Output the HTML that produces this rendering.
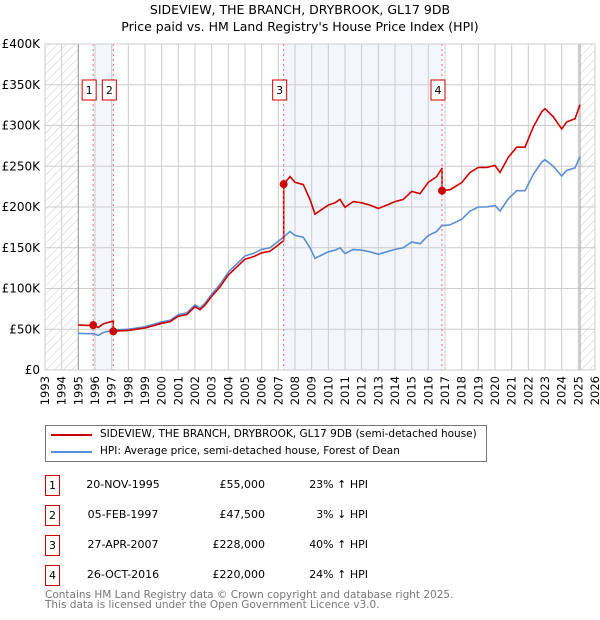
<!DOCTYPE html>
<html><head><meta charset="utf-8">
<style>
body{margin:0;background:#fff;font-family:"DejaVu Sans","Liberation Sans",sans-serif;}
#wrap{position:relative;width:600px;height:620px;overflow:hidden;}
.t{position:absolute;font-size:12px;color:#000;white-space:nowrap;}
.box{position:absolute;width:13px;height:19px;border:1px solid #c00;font-size:11px;text-align:center;line-height:19px;}
</style></head><body>
<div id="wrap">
<div class="t" style="left:0;width:600px;text-align:center;top:2px;font-size:12.5px">SIDEVIEW, THE BRANCH, DRYBROOK, GL17 9DB</div>
<div class="t" style="left:0;width:600px;text-align:center;top:19px;font-size:12.5px">Price paid vs. HM Land Registry's House Price Index (HPI)</div>
<svg id="chart" width="600" height="415" style="position:absolute;left:0;top:0"></svg>
<div style="position:absolute;left:45px;top:425px;width:440px;height:35px;border:1px solid #777;">
 <div><div style="position:absolute;left:5px;top:8px;width:41px;height:2px;background:#c00"></div><div class="t" style="left:54px;top:2px;font-size:10.5px">SIDEVIEW, THE BRANCH, DRYBROOK, GL17 9DB (semi-detached house)</div></div>
 <div><div style="position:absolute;left:5px;top:25px;width:41px;height:2px;background:#5b8ed3"></div><div class="t" style="left:54px;top:19px;font-size:10.5px">HPI: Average price, semi-detached house, Forest of Dean</div></div>
</div>
<div id="table"></div>
<div class="t" style="left:45px;top:589px;font-size:10.5px;color:#777">Contains HM Land Registry data © Crown copyright and database right 2025.</div>
<div class="t" style="left:45px;top:599px;font-size:10.5px;color:#777">This data is licensed under the Open Government Licence v3.0.</div>
</div>
<script>
const hpiYears=[1995.0,1995.5,1995.9,1996.2,1996.5,1997.1,1997.5,1998,1998.5,1999,1999.5,2000,2000.5,2001,2001.5,2002,2002.3,2002.6,2003,2003.5,2004,2004.5,2004.8,2005,2005.5,2006,2006.5,2007,2007.3,2007.7,2008,2008.5,2008.9,2009.2,2009.5,2010,2010.4,2010.7,2011,2011.5,2012,2012.5,2013,2013.5,2014,2014.5,2015,2015.5,2016,2016.5,2016.8,2017.3,2018,2018.5,2019,2019.5,2020,2020.3,2020.8,2021.3,2021.8,2022.3,2022.8,2023,2023.5,2024,2024.3,2024.8,2025.1];
const hpiValues=[45000,44500,44700,42500,46000,48900,49500,50000,51500,53000,56000,59000,61000,68000,70000,80000,76000,82000,93000,105000,120000,130000,136000,140000,143000,148000,150000,158000,163000,170000,165000,163000,150000,137000,140000,145000,147000,150000,143000,148000,147000,145000,142000,145000,148000,150000,157000,155000,165000,170000,177000,178000,185000,195000,200000,200000,202000,195000,210000,220000,220000,240000,255000,258000,250000,238000,245000,248000,262000];
const saleLabels=["1","2","3","4"];
const saleDates=["20-NOV-1995","05-FEB-1997","27-APR-2007","26-OCT-2016"];
const saleYears=[1995.89,1997.1,2007.32,2016.82];
const salePrices=[55000,47500,228000,220000];
const saleDiffs=["23% \u2191 HPI","3% \u2193 HPI","40% \u2191 HPI","24% \u2191 HPI"];
const yTicks=[0,50000,100000,150000,200000,250000,300000,350000,400000];
const yTickLabels=["£0","£50K","£100K","£150K","£200K","£250K","£300K","£350K","£400K"];
const xTicks=[1993,1994,1995,1996,1997,1998,1999,2000,2001,2002,2003,2004,2005,2006,2007,2008,2009,2010,2011,2012,2013,2014,2015,2016,2017,2018,2019,2020,2021,2022,2023,2024,2025,2026];

const L=45,R=595,T=44,B=370,X0=1993,X1=2026,YMAX=400000;
const xs=v=>L+(v-X0)/(X1-X0)*(R-L);
const ys=v=>B-v/YMAX*(B-T);
const NS="http://www.w3.org/2000/svg";
const svg=document.getElementById('chart');
function mk(tag,at,parent){const e=document.createElementNS(NS,tag);for(const k in at)e.setAttribute(k,at[k]);(parent||svg).appendChild(e);return e;}
function hpiAt(y){for(let i=0;i<hpiYears.length-1;i++){if(y<=hpiYears[i+1]){const f=(y-hpiYears[i])/(hpiYears[i+1]-hpiYears[i]);return hpiValues[i]+f*(hpiValues[i+1]-hpiValues[i]);}}return hpiValues[hpiValues.length-1];}

const defs=mk('defs',{});
const pat=mk('pattern',{id:'hatch',width:6,height:6,patternUnits:'userSpaceOnUse',patternTransform:'rotate(45)'},defs);
mk('line',{x1:0,y1:0,x2:0,y2:6,stroke:'#ccc','stroke-width':1},pat);
const dataStart=hpiYears[0],dataEnd=hpiYears[hpiYears.length-1];
let e;
e=mk('rect',{x:L,y:T,width:xs(dataStart)-L,height:B-T,fill:'url(#hatch)'});

e=mk('rect',{x:xs(dataEnd),y:T,width:R-xs(dataEnd),height:B-T,fill:'url(#hatch)'});

for(let i=0;i<saleYears.length;i+=2){
 e=mk('rect',{x:xs(saleYears[i]),y:T,width:xs(saleYears[i+1])-xs(saleYears[i]),height:B-T,fill:'#f3f6fd'});
 
}
xTicks.forEach(v=>{e=mk('line',{x1:xs(v),x2:xs(v),y1:T,y2:B,stroke:'#ccc','stroke-width':1});
 
 e=mk('text',{x:0,y:0,transform:`translate(${xs(v)+4},${B+6}) rotate(-90)`,'text-anchor':'end','font-size':'11.5','font-family':'DejaVu Sans, Liberation Sans, sans-serif'});e.textContent=v;
 });
yTicks.forEach((v,i)=>{e=mk('line',{x1:L,x2:R,y1:ys(v),y2:ys(v),stroke:'#ccc','stroke-width':1});
 
 e=mk('text',{x:L-5,y:ys(v)+4,'text-anchor':'end','font-size':'12','font-family':'DejaVu Sans, Liberation Sans, sans-serif'});e.textContent=yTickLabels[i];
 });
e=mk('line',{x1:xs(dataStart),x2:xs(dataStart),y1:T,y2:B,stroke:'#999'});
e=mk('line',{x1:xs(dataEnd),x2:xs(dataEnd),y1:T,y2:B,stroke:'#999'});

let d=hpiYears.map((y,i)=>(i?'L':'M')+xs(y).toFixed(1)+','+ys(hpiValues[i]).toFixed(1)).join('');
e=mk('path',{d:d,fill:'none',stroke:'#5b8ed3','stroke-width':1.6});

let pts=[];
for(let i=0;i<hpiYears.length;i++){
 const y=hpiYears[i];let k=0;for(let j=0;j<saleYears.length;j++)if(y>=saleYears[j])k=j;
 if(i>0){for(let j=0;j<saleYears.length;j++){if(saleYears[j]>hpiYears[i-1]&&saleYears[j]<=y){const kp=Math.max(0,j-1);pts.push([saleYears[j],hpiAt(saleYears[j])*salePrices[kp]/hpiAt(saleYears[kp])]);pts.push([saleYears[j],salePrices[j]]);}}}
 pts.push([y,hpiValues[i]*salePrices[k]/hpiAt(saleYears[k])]);
}
d=pts.map((p,i)=>(i?'L':'M')+xs(p[0]).toFixed(1)+','+ys(p[1]).toFixed(1)).join('');
e=mk('path',{d:d,fill:'none',stroke:'#c00','stroke-width':1.6});


saleYears.forEach((y,i)=>{
 e=mk('line',{x1:xs(y),x2:xs(y),y1:T,y2:B,stroke:'#e66','stroke-width':1,'stroke-dasharray':'2,3'});
 
 e=mk('circle',{cx:xs(y),cy:ys(salePrices[i]),r:4,fill:'#c00'});
 
 e=mk('rect',{x:xs(y)-11,y:80,width:14,height:20,fill:'#fff',stroke:'#c00'});
 
 e=mk('text',{x:xs(y)-4,y:94,'text-anchor':'middle','font-size':'11','font-family':'DejaVu Sans, sans-serif'});e.textContent=saleLabels[i];
 
});
e=mk('rect',{x:L,y:T,width:R-L,height:B-T,fill:'none',stroke:'#ccc'});


const tb=document.getElementById('table');
saleLabels.forEach((l,i)=>{
 const top=475+i*30;
 const row=document.createElement('div');
 
 
 row.innerHTML=`<div class="box" style="left:45px;top:${top}px">${l}</div>
 <div class="t" style="left:73px;width:100px;text-align:center;top:${top+3}px;font-size:11px">${saleDates[i]}</div>
 <div class="t" style="left:165px;width:100px;text-align:right;top:${top+3}px;font-size:11px">£${salePrices[i].toLocaleString('en-GB')}</div>
 <div class="t" style="left:268px;width:100px;text-align:right;top:${top+3}px;font-size:11px">${saleDiffs[i]}</div>`;
 tb.appendChild(row);
});
</script>
</body></html>
